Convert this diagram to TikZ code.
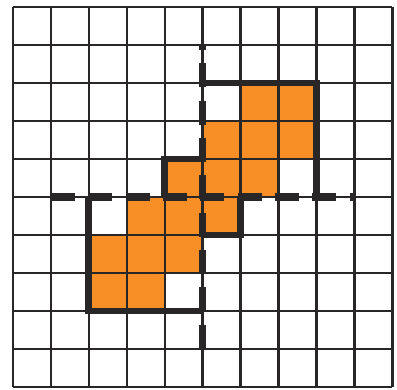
\documentclass[tikz,border=0pt]{standalone}
\usepackage{tikz}
\definecolor{fillorange}{RGB}{248,143,38}
\definecolor{ink}{RGB}{40,38,38}
\tikzset{
  gridline/.style={draw=ink, line width=1.8pt},
  shapeline/.style={draw=ink, line width=5pt, line cap=square, line join=miter},
  axisline/.style={draw=ink, line width=5.5pt, dash pattern=on 18pt off 10pt},
  cellfill/.style={fill=fillorange, draw=none}
}
\begin{document}
\begin{tikzpicture}[x=1cm,y=1cm]
\useasboundingbox[fill=white] (-0.34,-0.06) rectangle (10.12,10.19);
% orange regions
\fill[cellfill] (6,8) -- (8,8) -- (8,6) -- (7,6) -- (7,5) -- (4,5) -- (4,6) -- (5,6) -- (5,7) -- (6,7) -- cycle;
\fill[cellfill] (4,2) -- (2,2) -- (2,4) -- (3,4) -- (3,5) -- (6,5) -- (6,4) -- (5,4) -- (5,3) -- (4,3) -- cycle;
% grid
\draw[gridline] (0,0) grid (10,10);
% outlines of the two shapes
\draw[shapeline] (5,8) -- (8,8) -- (8,5);
\draw[shapeline] (4,5) -- (4,6) -- (5,6);
\draw[shapeline] (2,5) -- (2,2) -- (5,2);
\draw[shapeline] (5,4) -- (6,4) -- (6,5);
% dashed axes
\draw[axisline] (1,5) -- (9,5);
\draw[axisline] (5,1) -- (5,9);
\end{tikzpicture}
\end{document}
